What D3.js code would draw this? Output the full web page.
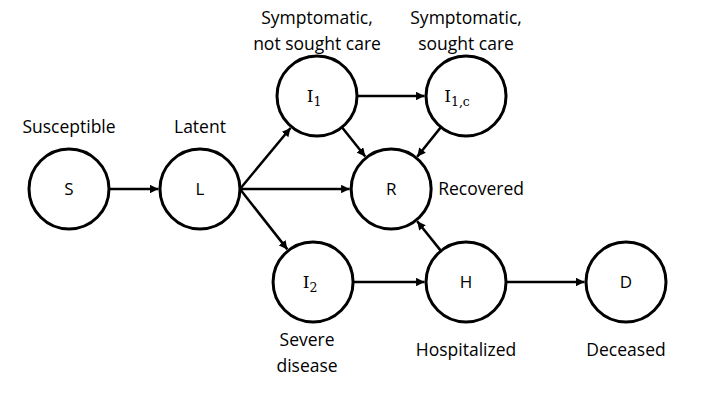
<!DOCTYPE html>
<html>
<head>
<meta charset="utf-8">
<script src="https://cdn.jsdelivr.net/npm/d3@7"></script>
<style>
  body { margin: 0; background: #fff; }
  svg { display: block; }
</style>
</head>
<body>
<svg id="chart" width="720" height="405"></svg>
<script>
// compartments of the model
const nodeIds = ["S", "L", "I1", "I1c", "R", "I2", "H", "D"];
const nodeMain = ["S", "L", "I", "I", "R", "I", "H", "D"];
const nodeSub = ["", "", "1", "1,c", "", "2", "", ""];
const nodeDesc = [
  ["Susceptible"],
  ["Latent"],
  ["Symptomatic,", "not sought care"],
  ["Symptomatic,", "sought care"],
  ["Recovered"],
  ["Severe", "disease"],
  ["Hospitalized"],
  ["Deceased"]
];
// transitions
const edges = [
  ["S", "L"], ["L", "I1"], ["L", "R"], ["L", "I2"],
  ["I1", "I1c"], ["I1", "R"], ["I1c", "R"],
  ["I2", "H"], ["H", "R"], ["H", "D"]
];
// layout grid (diagram units)
const nodeCol = [0, 1.065, 2.017, 3.229, 2.62, 1.985, 3.229, 4.53];
const nodeRow = [1, 1, 0, 0, 1, 2, 2, 2];
const descSide = ["top", "top", "top", "top", "right", "bottom", "bottom", "bottom"];

const svg = d3.select("#chart");
const x = d3.scaleLinear().domain([0, 4.53]).range([69, 626]);
const y = d3.scaleLinear().domain([0, 2]).range([96, 282]);
const r = 40;

const nodes = nodeIds.map((id, i) => ({
  id: id, main: nodeMain[i], sub: nodeSub[i], desc: nodeDesc[i],
  side: descSide[i], cx: x(nodeCol[i]), cy: y(nodeRow[i])
}));
const byId = {};
nodes.forEach(n => byId[n.id] = n);

svg.append("defs").append("marker")
  .attr("id", "arrow")
  .attr("viewBox", "0 0 10 10")
  .attr("refX", 10).attr("refY", 5)
  .attr("markerWidth", 3.5).attr("markerHeight", 3.4)
  .attr("markerUnits", "strokeWidth")
  .attr("orient", "auto")
  .append("path").attr("d", "M0,0 L10,5 L0,10 Z").attr("fill", "#000");

// arrows
svg.append("g").selectAll("line")
  .data(edges)
  .join("line")
  .each(function(e) {
    const a = byId[e[0]], b = byId[e[1]];
    let sx, sy;
    if (a.id == "L") { // all exits of L leave from its right-hand point
      sx = a.cx + r; sy = a.cy;
    } else {
      const dx = b.cx - a.cx, dy = b.cy - a.cy, len = Math.hypot(dx, dy);
      sx = a.cx + dx / len * r; sy = a.cy + dy / len * r;
    }
    const dx2 = b.cx - sx, dy2 = b.cy - sy, len2 = Math.hypot(dx2, dy2);
    d3.select(this)
      .attr("x1", sx).attr("y1", sy)
      .attr("x2", b.cx - dx2 / len2 * (r + 1.5))
      .attr("y2", b.cy - dy2 / len2 * (r + 1.5));
  })
  .attr("stroke", "#000")
  .attr("stroke-width", 2.5)
  .attr("marker-end", "url(#arrow)");

const g = svg.append("g").selectAll("g")
  .data(nodes)
  .join("g")
  .attr("transform", d => `translate(${d.cx},${d.cy})`);

g.append("circle")
  .attr("r", r)
  .attr("fill", "#fff")
  .attr("stroke", "#000")
  .attr("stroke-width", 3);

// node symbols: plain letters in sans, I-compartments in serif with subscript
g.append("text")
  .attr("text-anchor", "middle")
  .attr("dy", "0.35em")
  .style("font-family", d => d.sub ? "'DejaVu Serif', serif" : "'Open Sans', sans-serif")
  .style("font-size", "17px")
  .each(function(d) {
    const t = d3.select(this);
    t.append("tspan").text(d.main);
    if (d.sub) {
      t.append("tspan").attr("dy", 4).style("font-size", "12.5px").text(d.sub);
    }
  })
  .attr("dx", d => d.sub ? -(d.sub.length * 3) : 0);

// descriptions
g.append("text")
  .style("font-family", "'Open Sans', sans-serif")
  .style("font-size", "17.5px")
  .attr("fill", "#000")
  .attr("text-anchor", d => d.side == "right" ? "start" : "middle")
  .each(function(d) {
    const t = d3.select(this);
    const n = d.desc.length;
    let x0 = 0, y0;
    if (d.side == "top") y0 = n > 1 ? -51 - 27 * (n - 1) : -62;
    else if (d.side == "bottom") y0 = n > 1 ? 58 : 68;
    else { x0 = 47; y0 = 0; }
    if (d.id == "I2") x0 = -6;
    d.desc.forEach((line, k) => {
      t.append("tspan")
        .attr("x", x0)
        .attr("y", y0 + k * 26)
        .attr("dy", "0.35em")
        .text(line);
    });
  });
</script>
</body>
</html>
